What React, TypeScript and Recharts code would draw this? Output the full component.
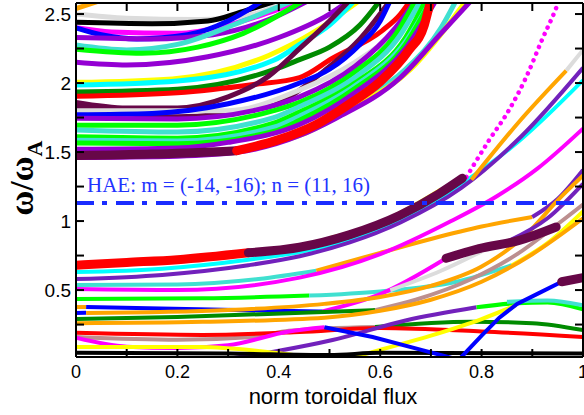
import { LineChart, Line, XAxis, YAxis, ReferenceLine } from "recharts";

type Pt = [number, number];

const C = {
  red: "#ff0000", green: "#00ff00", blue: "#0000ff", yellow: "#ffff00", brown: "#bc8f8f",
  grey: "#dcdcdc", violet: "#9400d3", cyan: "#00ffff", magenta: "#ff00ff", orange: "#ffa500",
  indigo: "#7221bc", maroon: "#670748", turquoise: "#40e0d0", green4: "#008b00", black: "#000000",
};

// upper continuum branch, omega/omega_A ~ 1.45 .. 2.6
const upperCurves: Pt[][] = [
  [[0, 2.54], [0.025, 2.57], [0.05, 2.6]],
  [[0, 2.5], [0.1, 2.47], [0.24, 2.46], [0.35, 2.5], [0.42, 2.6]],
  [[0, 2.44], [0.15, 2.43], [0.26, 2.45], [0.33, 2.52], [0.4, 2.6]],
  [[0, 2.4], [0.07, 2.37], [0.2, 2.36], [0.3, 2.42], [0.38, 2.51], [0.45, 2.6]],
  [[0, 2.4], [0.05, 2.35], [0.12, 2.32], [0.22, 2.35], [0.3, 2.45], [0.37, 2.6]],
  [[0, 2.33], [0.15, 2.32], [0.27, 2.35], [0.38, 2.46], [0.46, 2.6]],
  [[0, 2.275], [0.1, 2.24], [0.2, 2.28], [0.33, 2.45], [0.43, 2.6]],
  [[0, 2.245], [0.13, 2.215], [0.24, 2.26], [0.33, 2.36], [0.45, 2.6]],
  [[0, 2.15], [0.1, 2.13], [0.26, 2.19], [0.4, 2.33], [0.5, 2.5], [0.54, 2.6]],
  [[0, 2.005], [0.19, 2.03], [0.38, 2.2], [0.47, 2.37], [0.53, 2.52], [0.56, 2.6]],
  [[0, 1.985], [0.2, 2.015], [0.39, 2.165], [0.441, 2.28], [0.5, 2.42], [0.55, 2.6]],
  [[0, 1.935], [0.2, 1.955], [0.4, 2.11], [0.441, 2.17], [0.5, 2.26], [0.56, 2.42], [0.6, 2.6]],
  [[0, 1.905], [0.2, 1.93], [0.35, 1.99], [0.441, 2.04], [0.506, 2.18], [0.604, 2.38], [0.64, 2.5], [0.66, 2.6]],
  [[0, 1.86], [0.1, 1.82], [0.2, 1.82], [0.3, 1.9], [0.38, 2.05], [0.441, 2.25], [0.5, 2.45], [0.54, 2.6]],
  [[0, 1.83], [0.2, 1.755], [0.39, 1.85], [0.49, 2.09], [0.56, 2.32], [0.62, 2.6]],
  [[0, 1.8], [0.3, 1.8], [0.441, 1.95], [0.55, 2.15], [0.64, 2.4], [0.69, 2.6]],
  [[0, 1.77], [0.15, 1.78], [0.3, 1.85], [0.441, 2.0], [0.5, 2.1], [0.56, 2.28], [0.6, 2.45], [0.62, 2.6]],
  [[0, 1.745], [0.2, 1.74], [0.35, 1.8], [0.441, 1.9], [0.55, 2.12], [0.63, 2.4], [0.67, 2.6]],
  [[0, 1.695], [0.2, 1.695], [0.39, 1.8], [0.441, 1.86], [0.55, 2.08], [0.63, 2.35], [0.67, 2.6]],
  [[0, 1.66], [0.2, 1.645], [0.39, 1.75], [0.441, 1.83], [0.55, 2.04], [0.64, 2.35], [0.68, 2.6]],
  [[0, 1.61], [0.2, 1.6], [0.39, 1.71], [0.441, 1.79], [0.55, 2.0], [0.65, 2.33], [0.69, 2.6]],
  [[0, 1.585], [0.2, 1.58], [0.39, 1.68], [0.441, 1.76], [0.55, 1.98], [0.65, 2.3], [0.7, 2.6]],
  [[0, 1.565], [0.2, 1.56], [0.39, 1.65], [0.441, 1.73], [0.55, 1.96], [0.65, 2.28], [0.7, 2.6]],
  [[0, 1.52], [0.2, 1.53], [0.3, 1.57], [0.441, 1.7], [0.55, 1.93], [0.65, 2.25], [0.71, 2.6]],
  [[0.3, 1.5], [0.441, 1.63], [0.55, 1.85], [0.65, 2.1], [0.72, 2.4], [0.75, 2.6]],
  [[0.35, 1.53], [0.441, 1.62], [0.55, 1.83], [0.66, 2.1], [0.74, 2.45], [0.77, 2.6]],
  [[0, 1.46], [0.2, 1.47], [0.32, 1.5], [0.441, 1.62], [0.51, 1.74], [0.64, 2.04], [0.72, 2.36], [0.78, 2.6]],
];
const upperColors = [
  C.orange, C.grey, C.black, C.magenta, C.blue, C.violet, C.turquoise, C.green, C.violet,
  C.yellow, C.cyan, C.green4, C.red, C.maroon, C.maroon, C.grey, C.blue, C.violet, C.green,
  C.turquoise, C.green, C.turquoise, C.green, C.violet, C.turquoise, C.yellow, C.violet,
];

// lower (gap) branch, 0.25 .. 1.4 and the fans at the right edge
const lowerCurves: Pt[][] = [
  [[0, 0.63], [0.17, 0.655], [0.34, 0.72], [0.441, 0.775], [0.54, 0.865], [0.64, 1.01], [0.76, 1.27], [0.874, 1.58], [1.0, 2.02]],
  [[0, 0.58], [0.17, 0.61], [0.34, 0.68], [0.441, 0.745], [0.54, 0.845], [0.64, 0.99], [0.76, 1.24], [0.88, 1.62], [1.0, 2.11]],
  [[0, 0.536], [0.2, 0.54], [0.36, 0.58], [0.474, 0.64]],
  [[0.474, 0.64], [0.6, 0.77], [0.7, 0.87], [0.8, 0.96], [0.9, 1.03]],
  [[0.9, 1.03], [0.95, 1.16], [1.0, 1.37]],
  [[0, 0.507], [0.2, 0.5], [0.441, 0.59], [0.6, 0.76], [0.74, 1.0], [0.83, 1.18], [0.91, 1.38], [1.0, 1.67]],
  [[0, 0.435], [0.25, 0.44], [0.46, 0.46]],
  [[0.46, 0.46], [0.6, 0.49], [0.75, 0.56], [0.86, 0.68]],
  [[0.86, 0.68], [0.93, 0.84], [1.0, 1.07]],
  [[0, 0.377], [0.02, 0.377]],
  [[0.02, 0.377], [0.315, 0.355], [0.486, 0.345]],
  [[0.486, 0.345], [0.6, 0.47], [0.73, 0.73]],
  [[0, 0.333], [0.02, 0.335]],
  [[0.02, 0.333], [0.3, 0.355], [0.49, 0.4], [0.6, 0.45], [0.7, 0.53], [0.8, 0.67], [0.89, 0.91], [0.95, 1.15], [1.0, 1.33]],
  [[0, 0.29], [0.2, 0.305], [0.49, 0.341], [0.59, 0.355]],
  [[0.59, 0.355], [0.67, 0.43], [0.78, 0.58], [0.87, 0.76], [0.953, 0.986], [1.0, 1.12]],
  [[0, 0.26], [0.25, 0.27], [0.49, 0.3], [0.6, 0.35], [0.7, 0.43], [0.8, 0.56], [0.9, 0.76], [1.0, 1.02]],
  [[0.62, 0.5], [0.72, 0.64], [0.8, 0.78]],
  [[0.5, 0.875], [0.6, 0.99], [0.66, 1.1], [0.72, 1.23]],
  [[0.85, 0.85], [0.93, 1.02], [1.0, 1.27]],
  [[0.78, 1.3], [0.874, 1.72], [0.967, 2.09]],
  [[0.967, 2.09], [1.0, 2.24]],
];
const lowerColors = [
  C.cyan, C.indigo, C.turquoise, C.orange, C.indigo, C.magenta, C.green, C.turquoise, C.yellow,
  C.orange, C.blue, C.magenta, C.blue, C.orange, C.green4, C.brown, C.orange, C.grey, C.yellow,
  C.indigo, C.orange, C.grey,
];

// bottom of the spectrum, below 0.45
const bottomCurves: Pt[][] = [
  [[0, 0.16], [0.2, 0.14], [0.35, 0.16], [0.42, 0.205], [0.59, 0.232]],
  [[0.59, 0.232], [0.78, 0.27], [0.9, 0.26], [1.0, 0.21]],
  [[0, 0.19], [0.25, 0.175], [0.441, 0.196], [0.6, 0.225], [0.8, 0.2], [1.0, 0.16]],
  [[0, 0.155], [0.1, 0.09], [0.2, 0.08], [0.3, 0.1], [0.42, 0.2], [0.49, 0.23]],
  [[0.28, -0.01], [0.4, 0.06], [0.506, 0.138], [0.65, 0.28], [0.79, 0.375]],
  [[0.79, 0.375], [0.87, 0.405], [0.93, 0.41], [1.0, 0.36]],
  [[0.85, 0.415], [0.93, 0.425], [1.0, 0.39]],
  [[0, 0.087], [0.244, 0.087], [0.4, 0.043], [0.506, -0.005]],
  [[0.53, -0.005], [0.598, 0.065], [0.7, 0.17], [0.8, 0.29], [0.868, 0.39]],
  [[0, 0.045], [0.3, 0.04], [0.5, 0.03], [0.6, 0.045], [1.0, 0.04]],
];
const bottomColors = [
  C.brown, C.green4, C.red, C.magenta, C.indigo, C.green, C.turquoise, C.yellow, C.yellow, C.black,
];

// kinked branch touching zero near s = 0.755
const blueDip: Pt[] = [
  [0.49, 0.23], [0.585, 0.16], [0.683, 0.065], [0.755, -0.005], [0.8, 0.17], [0.835, 0.3],
  [0.87, 0.4], [0.913, 0.478], [0.958, 0.56],
];

// highlighted heavy segments
const heavyCurves: Pt[][] = [
  [[0, 1.475], [0.15, 1.485], [0.317, 1.51]],
  [[0.317, 1.51], [0.4, 1.59], [0.474, 1.7], [0.54, 1.85], [0.6, 2.01], [0.657, 2.24], [0.687, 2.42], [0.697, 2.56]],
  [[0, 0.68], [0.1, 0.7], [0.2, 0.72], [0.34, 0.77]],
  [[0.34, 0.77], [0.441, 0.81], [0.539, 0.9], [0.638, 1.04], [0.717, 1.2], [0.762, 1.31]],
  [[0.73, 0.73], [0.795, 0.8], [0.874, 0.86], [0.947, 0.957]],
  [[0.958, 0.56], [1.0, 0.59]],
];
const heavyColors = [C.maroon, C.red, C.red, C.maroon, C.maroon, C.maroon];

const dottedBranch: Pt[] = [
  [0.77, 1.319], [0.815, 1.587], [0.854, 1.804], [0.888, 2.043], [0.919, 2.312], [0.947, 2.543], [0.955, 2.62],
];

const haeFreq = 1.13;
const haeText = "HAE: m = (-14, -16); n = (11, 16)";

const xTicks = [0, 0.1, 0.2, 0.3, 0.4, 0.5, 0.6, 0.7, 0.8, 0.9, 1];
const xLabels = [0, 0.2, 0.4, 0.6, 0.8, 1];
const yTicks = [0.25, 0.5, 0.75, 1, 1.25, 1.5, 1.75, 2, 2.25, 2.5];
const yLabels = [0.5, 1, 1.5, 2, 2.5];

const X_DOMAIN: [number, number] = [0, 1];
const Y_DOMAIN: [number, number] = [0.015, 2.58];
const W = 584;
const H = 415;
const M = { top: 3, right: 1, bottom: 28, left: 16 };
const X_AXIS_H = 30;
const Y_AXIS_W = 60;
const SANS = "'Liberation Sans', Arial, sans-serif";
const SERIF = "'Liberation Serif', 'Times New Roman', serif";
const TICK = 8;

const rows = (pts: Pt[]) => pts.map(([x, y]) => ({ x, y }));
const isLabel = (list: number[], v: number) => list.some((t) => Math.abs(t - v) < 1e-6);

function BottomTick(p: any) {
  const v = p.payload.value;
  return (
    <g>
      <line x1={p.x} x2={p.x} y1={p.y} y2={p.y - TICK} stroke="#000" strokeWidth={2} />
      {isLabel(xLabels, v) && (
        <text x={p.x} y={p.y + 21} textAnchor="middle" fontSize={18} fontFamily={SANS} fill="#000">
          {String(v)}
        </text>
      )}
    </g>
  );
}
function LeftTick(p: any) {
  const v = p.payload.value;
  return (
    <g>
      <line x1={p.x} x2={p.x + TICK} y1={p.y} y2={p.y} stroke="#000" strokeWidth={2} />
      {isLabel(yLabels, v) && (
        <text x={p.x - 5} y={p.y + 7} textAnchor="end" fontSize={19} fontFamily={SANS} fill="#000">
          {String(v)}
        </text>
      )}
    </g>
  );
}
// inward ticks on the top and right edges of the frame, placed by reference lines
function TopTickShape(p: any) {
  const top = Math.min(p.y1, p.y2);
  return <line x1={p.x1} x2={p.x1} y1={top} y2={top + TICK} stroke="#000" strokeWidth={2} />;
}
function RightTickShape(p: any) {
  const right = Math.max(p.x1, p.x2);
  return <line x1={right} x2={right - TICK} y1={p.y1} y2={p.y1} stroke="#000" strokeWidth={2} />;
}

function curveSet(list: Pt[][], colors: string[], width: number, prefix: string, cap: "butt" | "round" = "butt") {
  return list.map((pts, i) => (
    <Line
      key={prefix + i}
      data={rows(pts)}
      dataKey="y"
      type="monotone"
      stroke={colors[i]}
      strokeWidth={width}
      strokeLinecap={cap}
      dot={false}
      activeDot={false}
      legendType="none"
      isAnimationActive={false}
    />
  ));
}

export default function App() {
  return (
    <div style={{ position: "relative", width: W, height: H, background: "#fff" }}>
      <style>{"body{margin:0}"}</style>
      <LineChart width={W} height={H} margin={M}>
        <XAxis
          dataKey="x"
          type="number"
          domain={X_DOMAIN}
          ticks={xTicks}
          interval={0}
          allowDataOverflow
          height={X_AXIS_H}
          tickSize={0}
          tickMargin={0}
          tickLine={false}
          axisLine={{ stroke: "#000", strokeWidth: 2 }}
          tick={<BottomTick />}
        />
        <YAxis
          type="number"
          domain={Y_DOMAIN}
          ticks={yTicks}
          interval={0}
          allowDataOverflow
          width={Y_AXIS_W}
          tickSize={0}
          tickMargin={0}
          tickLine={false}
          axisLine={{ stroke: "#000", strokeWidth: 2 }}
          tick={<LeftTick />}
        />
        {curveSet(upperCurves, upperColors, 5, "u")}
        {curveSet(lowerCurves, lowerColors, 4, "l")}
        {curveSet(bottomCurves, bottomColors, 4, "b")}
        <Line
          data={rows(blueDip)}
          dataKey="y"
          type="linear"
          stroke={C.blue}
          strokeWidth={4}
          dot={false}
          activeDot={false}
          legendType="none"
          isAnimationActive={false}
        />
        <Line
          data={rows(dottedBranch)}
          dataKey="y"
          type="monotone"
          stroke={C.magenta}
          strokeWidth={4.5}
          strokeLinecap="round"
          strokeDasharray="0.1 7"
          dot={false}
          activeDot={false}
          legendType="none"
          isAnimationActive={false}
        />
        {curveSet(heavyCurves, heavyColors, 9, "h", "round")}
        <ReferenceLine
          y={haeFreq}
          stroke="#1a2cff"
          strokeWidth={4}
          strokeDasharray="18 8 5 9"
          label={{ value: haeText, position: "insideBottomLeft", offset: 11, fill: "#2233ff", fontSize: 21, fontFamily: SERIF }}
        />
        {/* closed frame: top and right edges */}
        <ReferenceLine y={Y_DOMAIN[1]} stroke="#000" strokeWidth={2} ifOverflow="visible" />
        <ReferenceLine x={X_DOMAIN[1]} stroke="#000" strokeWidth={2} ifOverflow="visible" />
        {xTicks.map((t) => (
          <ReferenceLine key={"tx" + t} x={t} ifOverflow="visible" shape={<TopTickShape />} />
        ))}
        {yTicks.map((t) => (
          <ReferenceLine key={"ty" + t} y={t} ifOverflow="visible" shape={<RightTickShape />} />
        ))}
      </LineChart>
      <svg width={W} height={H} style={{ position: "absolute", left: 0, top: 0, pointerEvents: "none" }}>
        <text x={333} y={404} textAnchor="middle" fontSize={22} fontFamily={SANS} fill="#000">
          norm toroidal flux
        </text>
        <text transform="translate(33,178) rotate(-90)" textAnchor="middle" fontSize={34} fontWeight="bold" fontFamily={SERIF} fill="#000">
          ω/ω<tspan fontSize={22} dy={9}>A</tspan>
        </text>
      </svg>
    </div>
  );
}
